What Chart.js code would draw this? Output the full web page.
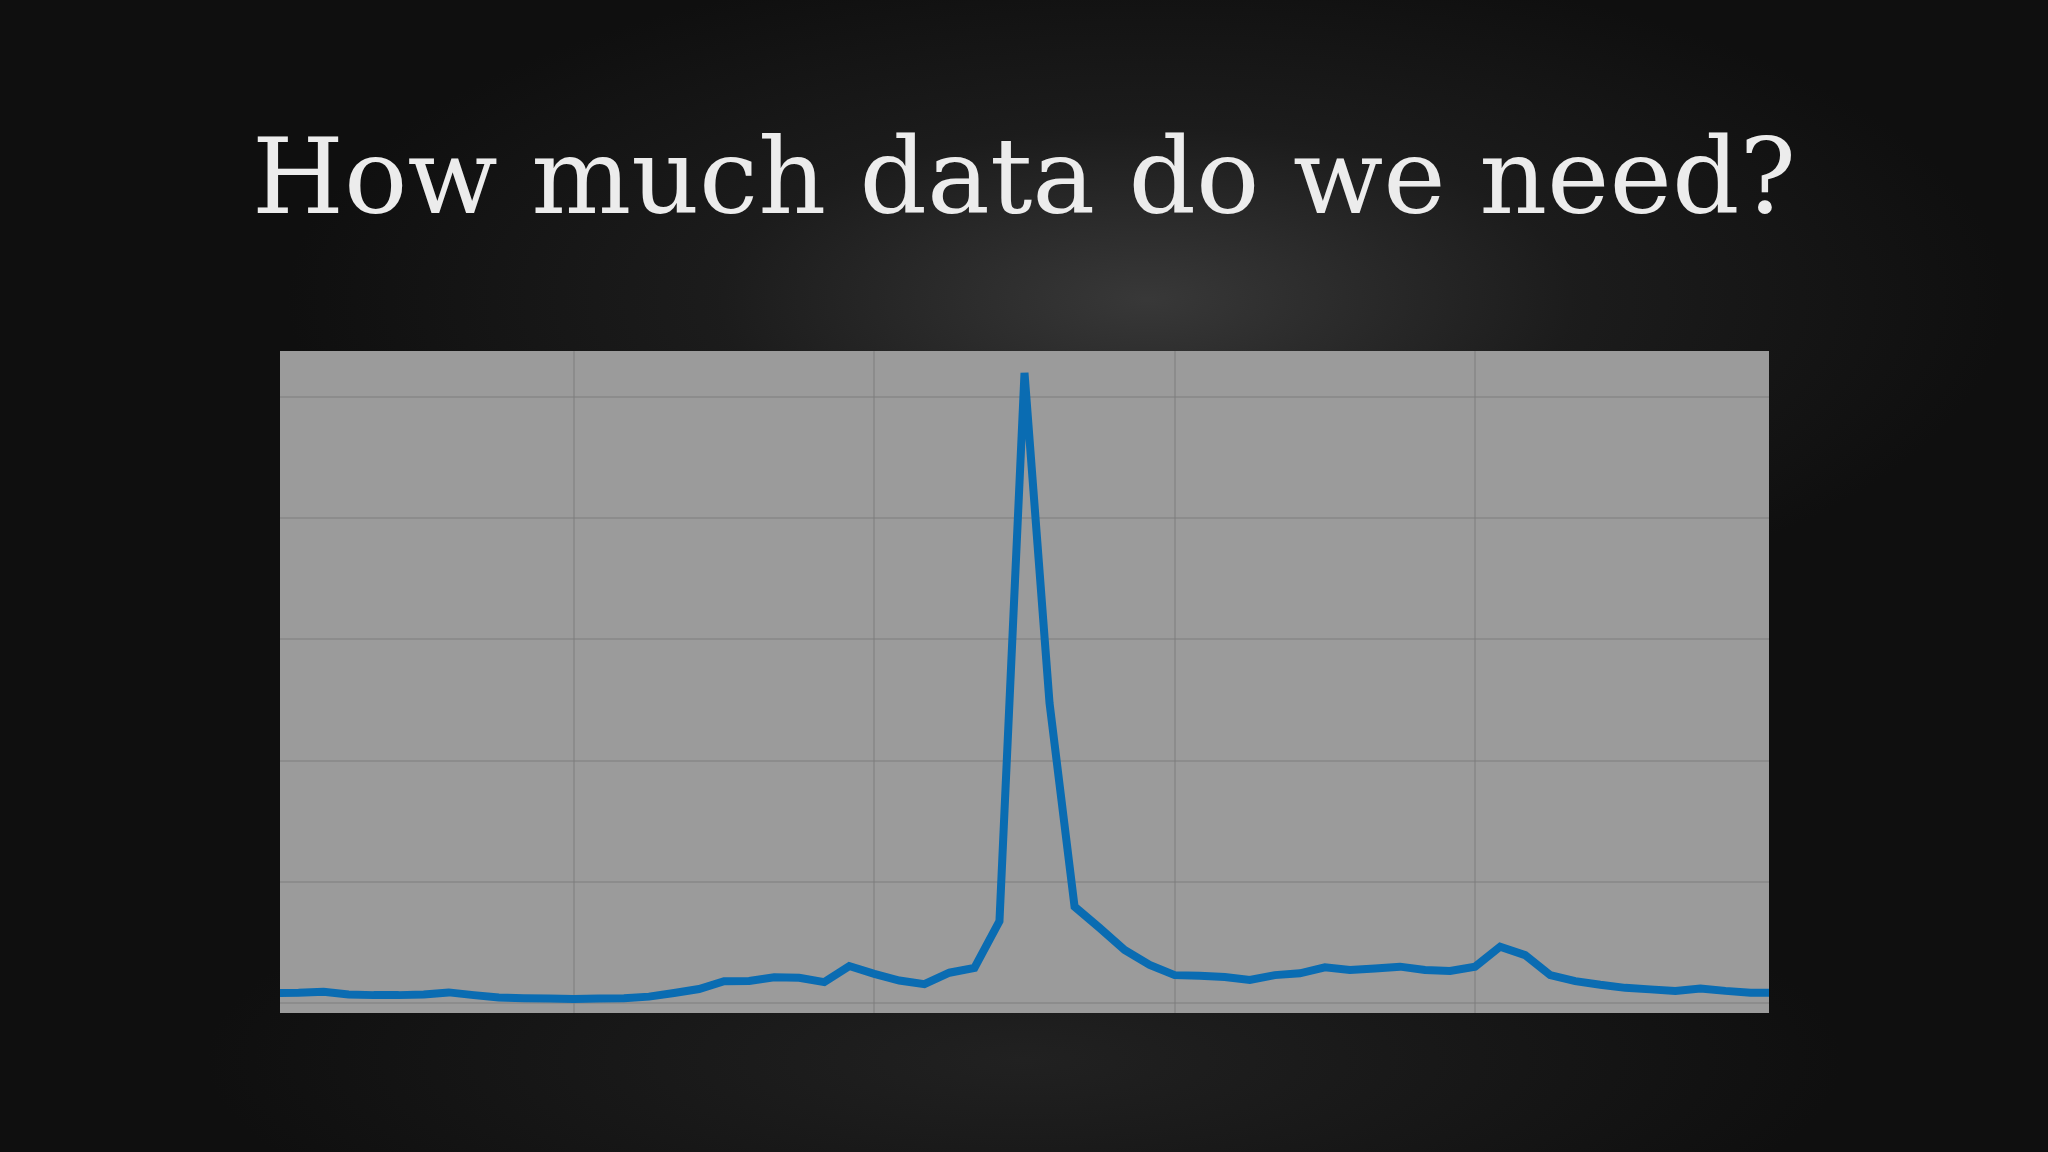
<!DOCTYPE html>
<html>
<head>
<meta charset="utf-8">
<script src="https://cdn.jsdelivr.net/npm/chart.js@4"></script>
<style>
  html, body {
    margin: 0;
    padding: 0;
    width: 2048px;
    height: 1152px;
    overflow: hidden;
  }
  body {
    position: relative;
    background:
      radial-gradient(ellipse 42% 30% at 56% 26%, rgba(70,70,70,0.75) 0%, rgba(40,40,40,0.5) 50%, rgba(0,0,0,0) 100%),
      radial-gradient(ellipse 40% 20% at 50% 92%, rgba(45,45,45,0.6) 0%, rgba(0,0,0,0) 100%),
      #0f0f0f;
  }
  #title {
    position: absolute;
    left: 0;
    width: 2048px;
    top: 112px;
    margin: 0;
    text-align: center;
    font-family: "DejaVu Serif", serif;
    font-weight: normal;
    font-size: 121px;
    line-height: 121px;
    color: #ececec;
    white-space: nowrap;
  }
  #wrap {
    position: absolute;
    left: 280px;
    top: 351px;
    width: 1489px;
    height: 662px;
    background: #9b9b9b;
  }
</style>
</head>
<body>
<h1 id="title">How much data do we need?</h1>
<div id="wrap"><canvas id="chart"></canvas></div>
<script>
// monthly values (no axis labels in the original)
const values = [
    1.65, 1.7, 1.85, 1.4, 1.3, 1.3, 1.4, 1.75, 1.3, 0.9,
    0.8, 0.75, 0.65, 0.75, 0.8, 1.05, 1.65, 2.3, 3.6, 3.65,
    4.25, 4.15, 3.45, 6.1, 4.8, 3.7, 3.1, 5.0, 5.8, 13.5,
    104, 49.5, 15.9, 12.4, 8.75, 6.3, 4.6, 4.5, 4.3, 3.8,
    4.6, 4.9, 5.9, 5.45, 5.7, 6.0, 5.45, 5.3, 6.0, 9.3,
    7.9, 4.6, 3.6, 3.0, 2.5, 2.25, 2.0, 2.4, 2.0, 1.7,
    1.7
];
const months = values.map((v, i) => i);

// grid positions
const xGrid = [12, 24, 36, 48];
const yGrid = [0, 20, 40, 60, 80, 100];

// fit title width to the reference
const title = document.getElementById('title');
const ctx0 = document.createElement('canvas').getContext('2d');
ctx0.font = '100px "DejaVu Serif"';
const w100 = ctx0.measureText(title.textContent).width;
const fs = 100 * 1544 / w100;
title.style.fontSize = fs + 'px';
title.style.lineHeight = fs + 'px';
title.style.top = (213 - 0.846 * fs) + 'px';

const gridColor = 'rgba(125, 125, 125, 0.5)';

const config = {
    type: 'line',
    data: {
        datasets: [{
            data: months.map((m, i) => ({ x: m, y: values[i] })),
            borderColor: '#0a6cb2',
            borderWidth: 8,
            pointRadius: 0,
            tension: 0,
            fill: false,
            clip: 0
        }]
    },
    options: {
        responsive: true,
        maintainAspectRatio: false,
        animation: false,
        layout: { padding: 0 },
        plugins: {
            legend: { display: false },
            tooltip: { enabled: false }
        },
        scales: {
            x: {
                type: 'linear',
                min: 0.26,
                max: 59.74,
                afterBuildTicks: (scale) => {
                    scale.ticks = xGrid.map(v => ({ value: v }));
                },
                ticks: { display: false },
                grid: { color: gridColor, lineWidth: 2, drawTicks: false },
                border: { display: false }
            },
            y: {
                min: -1.65,
                max: 107.6,
                afterBuildTicks: (scale) => {
                    scale.ticks = yGrid.map(v => ({ value: v }));
                },
                ticks: { display: false },
                grid: { color: gridColor, lineWidth: 2, drawTicks: false },
                border: { display: false }
            }
        }
    }
};

const myChart = new Chart(document.getElementById('chart'), config);
</script>
</body>
</html>
